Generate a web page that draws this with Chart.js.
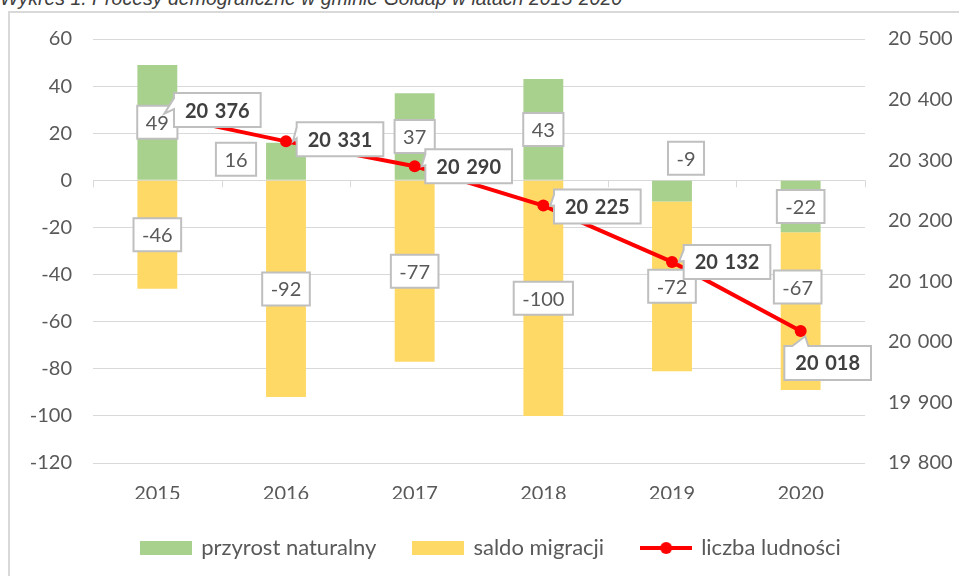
<!DOCTYPE html>
<html>
<head>
<meta charset="utf-8">
<script src="https://cdn.jsdelivr.net/npm/chart.js@4.4.0/dist/chart.umd.min.js"></script>
<style>
  html, body { margin: 0; padding: 0; background: #fff; overflow: hidden; }
  #wrap { position: relative; width: 959px; height: 576px; }
  #tytul { position: absolute; left: 0; top: -11px; font: italic 19.5px "Liberation Sans", Arial, sans-serif; color: #404040; line-height: 19px; white-space: nowrap; }
  #ramka { position: absolute; left: 8px; top: 11px; width: 980px; height: 600px; border: 2px solid #d9d9d9; box-sizing: border-box; }
  canvas { position: absolute; left: 0; top: 0; }
</style>
</head>
<body>
<div id="wrap">
  <div id="tytul">Wykres 1. Procesy demograficzne w gminie Gołdap w latach 2015-2020</div>
  <div id="ramka"></div>
  <canvas id="grafico" width="959" height="576"></canvas>
</div>
<script>
const lata = ["2015", "2016", "2017", "2018", "2019", "2020"];
const przyrost = [49, 16, 37, 43, -9, -22];
const saldo = [-46, -92, -77, -100, -72, -67];
const ludnosc = [20376, 20331, 20290, 20225, 20132, 20018];

// przesuniecia etykiet (jak w oryginale, recznie przesuniete)
const przesPrzyrost = [[0, 0], [-50, -2], [0, 0], [0, 0], [14, -33], [0, 0]];
const przesSaldo = [[0, 0], [0, 0], [0, 0], [0, 0], [0, 0], [-3, -24]];
const przesLudnosc = [[60, -4], [54, -2], [54, 0], [54, 1], [55, 0], [27, 32]];

const ZIELONY = '#a9d18e';
const ZOLTY = '#ffd966';
const CZERWONY = '#ff0000';
const SZARY = '#595959';

const fmt = v => {
    const s = String(Math.round(v));
    return s.length > 3 ? s.slice(0, -3) + '\u2004' + s.slice(-3) : s;
};

function ikona(kolor, linia) {
    const c = document.createElement('canvas');
    c.width = 52; c.height = 16;
    const g = c.getContext('2d');
    if (linia) {
        g.strokeStyle = kolor; g.lineWidth = 4;
        g.beginPath(); g.moveTo(0, 8); g.lineTo(52, 8); g.stroke();
        g.fillStyle = kolor;
        g.beginPath(); g.arc(26, 8, 6, 0, Math.PI * 2); g.fill();
    } else {
        g.fillStyle = kolor;
        g.fillRect(0, 1, 52, 14);
    }
    return c;
}
const ikony = [ikona(ZIELONY), ikona(ZOLTY), ikona(CZERWONY, true)];

function ramkaEtykiety(ctx, cx, cy, w, h, tip) {
    const L = cx - w / 2, T = cy - h / 2, R = cx + w / 2, B = cy + h / 2;
    ctx.beginPath();
    if (tip && tip.x < L) {
        ctx.moveTo(L, T); ctx.lineTo(R, T); ctx.lineTo(R, B); ctx.lineTo(L, B);
        ctx.lineTo(L, T + 16); ctx.lineTo(tip.x, tip.y); ctx.lineTo(L, T + 5);
    } else if (tip && tip.y < T) {
        ctx.moveTo(L, T); ctx.lineTo(L + 8, T); ctx.lineTo(tip.x, tip.y); ctx.lineTo(L + 24, T);
        ctx.lineTo(R, T); ctx.lineTo(R, B); ctx.lineTo(L, B);
    } else {
        ctx.rect(L, T, w, h);
    }
    ctx.closePath();
    ctx.fillStyle = '#fff';
    ctx.fill();
    ctx.strokeStyle = '#bfbfbf';
    ctx.lineWidth = 2;
    ctx.stroke();
}

const etykiety = {
    id: 'etykiety',
    afterDatasetsDraw(chart) {
        const ctx = chart.ctx;
        ctx.save();
        ctx.textAlign = 'center';
        ctx.textBaseline = 'middle';
        [przesPrzyrost, przesSaldo].forEach((przes, d) => {
            const meta = chart.getDatasetMeta(d);
            ctx.font = '20px Lato';
            meta.data.forEach((el, i) => {
                const txt = String(chart.data.datasets[d].data[i]);
                const cx = el.x + przes[i][0];
                const cy = (el.y + el.base) / 2 + przes[i][1];
                const w = ctx.measureText(txt).width + 17;
                ramkaEtykiety(ctx, cx, cy, w, 33);
                ctx.fillStyle = SZARY;
                ctx.fillText(txt, cx, cy + 1);
            });
        });
        const meta = chart.getDatasetMeta(2);
        ctx.font = 'bold 20px Lato';
        meta.data.forEach((el, i) => {
            const txt = fmt(ludnosc[i]);
            const cx = el.x + przesLudnosc[i][0];
            const cy = el.y + przesLudnosc[i][1];
            const w = ctx.measureText(txt).width + 22;
            const dx = cx - el.x, dy = cy - el.y;
            const n = Math.hypot(dx, dy);
            const tip = { x: el.x + dx / n * 7, y: el.y + dy / n * 7 };
            ramkaEtykiety(ctx, cx, cy, w, 34, tip);
            ctx.fillStyle = '#404040';
            ctx.fillText(txt, cx, cy + 1);
        });
        ctx.restore();
    }
};

// kreski podzialu kategorii na osi zero
const kreski = {
    id: 'kreski',
    beforeDatasetsDraw(chart) {
        const ctx = chart.ctx;
        const x = chart.scales.x, y = chart.scales.y;
        const y0 = y.getPixelForValue(0);
        const krok = (x.right - x.left) / lata.length;
        ctx.save();
        ctx.strokeStyle = '#d9d9d9';
        ctx.lineWidth = 1;
        for (let i = 0; i <= lata.length; i++) {
            const px = Math.round(x.left + i * krok) + 0.5;
            ctx.beginPath(); ctx.moveTo(px, y0); ctx.lineTo(px, y0 + 7); ctx.stroke();
        }
        ctx.restore();
    }
};

const PAD_L = 24;

const ctx = document.getElementById('grafico').getContext('2d');
const grafico = new Chart(ctx, {
    type: 'bar',
    data: {
        labels: lata,
        datasets: [
            { label: 'przyrost naturalny', data: przyrost, backgroundColor: ZIELONY, yAxisID: 'y', order: 2, categoryPercentage: 1, barPercentage: 0.31 },
            { label: 'saldo migracji', data: saldo, backgroundColor: ZOLTY, yAxisID: 'y', order: 2, categoryPercentage: 1, barPercentage: 0.31 },
            { type: 'line', label: 'liczba ludności', data: ludnosc, yAxisID: 'y2', order: 0,
              borderColor: CZERWONY, backgroundColor: CZERWONY, borderWidth: 4,
              pointRadius: 6, pointBackgroundColor: CZERWONY, pointBorderWidth: 0, tension: 0 }
        ]
    },
    options: {
        responsive: false,
        animation: false,
        layout: { padding: { left: PAD_L, right: 0, top: 39, bottom: 7 } },
        scales: {
            x: {
                stacked: true,
                grid: { display: false, drawTicks: false },
                border: { display: false },
                ticks: { color: SZARY, font: { family: 'Lato', size: 20 }, padding: 19 },
                afterFit: s => { s.height = 36; }
            },
            y: {
                stacked: true,
                position: 'left',
                min: -120, max: 60,
                grid: { color: '#d9d9d9', drawTicks: false },
                border: { display: false },
                ticks: { stepSize: 20, color: SZARY, font: { family: 'Lato', size: 20 }, padding: 21 },
                afterFit: s => { s.width = 93 - PAD_L; }
            },
            y2: {
                position: 'right',
                min: 19800, max: 20500,
                grid: { display: false, drawTicks: false },
                border: { display: false },
                ticks: { stepSize: 100, color: SZARY, font: { family: 'Lato', size: 20 }, padding: 23, callback: v => fmt(v) },
                afterFit: s => { s.width = 94; }
            }
        },
        plugins: {
            tooltip: { enabled: false },
            legend: {
                position: 'bottom',
                labels: {
                    usePointStyle: true,
                    pointStyleWidth: 48,
                    padding: 38,
                    color: SZARY,
                    font: { family: 'Lato', size: 22 },
                    sort: (a, b) => a.datasetIndex - b.datasetIndex,
                    generateLabels: chart => {
                        const items = Chart.defaults.plugins.legend.labels.generateLabels(chart);
                        items.forEach(it => { it.pointStyle = ikony[it.datasetIndex]; });
                        return items;
                    }
                }
            }
        }
    },
    plugins: [kreski, etykiety]
});
</script>
</body>
</html>
